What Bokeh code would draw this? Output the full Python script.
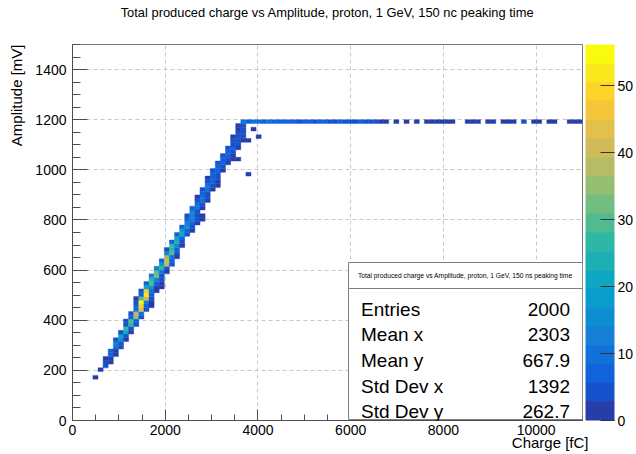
import numpy as np
from bokeh.plotting import figure
from bokeh.models import (ColumnDataSource, LinearColorMapper, ColorBar, FixedTicker,
                          Label, BoxAnnotation, Range1d, Title)
from bokeh.embed import file_html
from bokeh.resources import INLINE

# ---------------- histogram definition ----------------
x_lo, x_hi, n_xbins = 0, 11000, 100      # Charge [fC]
y_lo, y_hi, n_ybins = 0, 1500, 100       # Amplitude [mV]
z_top = 56.2                             # top of the colour scale

x_ticks = [0, 2000, 4000, 6000, 8000, 10000]
y_ticks = [0, 200, 400, 600, 800, 1000, 1200, 1400]
z_ticks = [0, 10, 20, 30, 40, 50]

# diagonal band: one entry per amplitude bin (y bin index, first charge bin, bin contents)
row_ybin = [11, 13, 14, 15, 16, 17, 18, 19, 20, 21, 22, 23, 24, 25, 26, 27, 28, 29, 30,
            31, 32, 33, 34, 35, 36, 37, 38, 39, 40, 41, 42, 43, 44, 45, 46, 47, 48, 49,
            50, 51, 52, 53, 54, 55, 56, 57, 58, 59, 60, 61, 62, 63, 64, 65, 66, 67, 68,
            69, 70, 71, 72, 73, 74, 75, 76, 77, 78]
row_xstart = [4, 5, 6, 6, 6, 7, 7, 8, 8, 8, 9, 9, 10, 10, 10, 11, 11, 12, 12,
              12, 12, 13, 13, 14, 14, 15, 15, 16, 16, 17, 17, 18, 18, 18, 19, 19, 20, 20,
              21, 21, 22, 22, 22, 23, 23, 24, 24, 24, 25, 25, 26, 26, 26, 27, 27, 28, 28,
              29, 29, 30, 30, 31, 31, 31, 32, 32, 32]
row_counts = [
    [1], [2], [4], [5, 1], [2, 2], [6, 1], [7, 2], [10, 3], [12, 4], [4, 16, 2],
    [18, 3], [3, 22, 2], [26, 4], [5, 28, 3], [3, 30, 6], [8, 34, 4], [4, 38, 9],
    [10, 44, 5], [6, 48, 8, 1], [4, 54, 12, 2], [2, 30, 42, 4], [8, 51, 6],
    [4, 46, 10, 2], [22, 18, 2, 1], [6, 30, 8, 2], [28, 14, 3], [12, 32, 5],
    [30, 10, 2], [14, 28, 4], [18, 38, 3], [8, 40, 6], [36, 9, 1], [12, 30, 4],
    [4, 28, 8], [26, 12, 2], [8, 24, 3], [22, 8], [8, 20, 3], [18, 6, 1], [6, 16, 4],
    [14, 6, 2], [8, 12, 3, 1], [3, 12, 4, 2], [12, 5], [6, 10, 2], [10, 4], [5, 9, 2],
    [2, 9, 4], [8, 5], [3, 9, 2], [9, 4, 1], [5, 8, 2], [2, 7, 5], [7, 3], [3, 7, 2],
    [7, 4], [3, 7, 2], [6, 4, 1, 1], [3, 6, 2], [6, 3], [3, 6, 1], [5, 3],
    [3, 5, 2, 1], [1, 4, 4], [4, 3], [2, 4], [1, 3],
]

# isolated entries beside the band
iso_xbin = [34, 36, 35]
iso_ybin = [65, 75, 77]
iso_count = [1, 1, 1]

# saturated amplitude row
sat_ybin = 79
sat_xbin = [33, 34, 35, 36, 37, 38, 39, 40, 41, 42, 43, 44, 45, 46, 47, 48, 49, 50,
            51, 52, 53, 54, 55, 56, 57, 58, 59, 60, 61,
            63, 65, 67, 69, 70, 71, 72, 73, 74, 77, 78, 79, 81, 82, 84, 85, 86, 88,
            90, 91, 93, 94, 97, 98, 99]
sat_count = [9, 8, 10, 9, 8, 9, 7, 8, 7, 6, 7, 5, 8, 6, 5, 6, 7, 4, 5, 6, 3, 5, 4, 6,
             5, 3, 4, 2, 2,
             1, 2, 1, 2, 1, 2, 1, 1, 2, 1, 2, 1, 2, 1, 1, 2, 1, 4, 1, 2, 1, 2, 1, 2, 1]

title_text = "Total produced charge vs Amplitude, proton, 1 GeV, 150 nc peaking time"
x_title = "Charge [fC]"
y_title = "Amplitude [mV]"
stats_title = "Total produced charge vs Amplitude, proton, 1 GeV, 150 ns peaking time"
stat_names = ["Entries", "Mean x", "Mean y", "Std Dev x", "Std Dev y"]
stat_values = ["2000", "2303", "667.9", "1392", "262.7"]

# ---------------- bird palette, 20 contour levels ----------------
stops = [0.0, 0.125, 0.25, 0.375, 0.5, 0.625, 0.75, 0.875, 1.0]
red = [0.2082, 0.0592, 0.0780, 0.0232, 0.1802, 0.5301, 0.8186, 0.9956, 0.9764]
green = [0.1664, 0.3599, 0.5041, 0.6419, 0.7178, 0.7492, 0.7328, 0.7862, 0.9832]
blue = [0.5293, 0.8684, 0.8385, 0.7914, 0.6425, 0.4662, 0.3499, 0.1968, 0.0539]
n_grad, n_levels = 255, 20
palette = []
for k in range(n_levels):
    t = int((k + 0.99) * n_grad / n_levels) / (n_grad - 1)
    rgb = [int(round(255 * np.interp(t, stops, c))) for c in (red, green, blue)]
    palette.append("#%02x%02x%02x" % tuple(rgb))

mapper = LinearColorMapper(palette=palette, low=0, high=z_top)

# ---------------- collect filled bins ----------------
bx, by, bc = [], [], []
for yb, xs, counts in zip(row_ybin, row_xstart, row_counts):
    for k, c in enumerate(counts):
        if c > 0:
            bx.append(xs + k); by.append(yb); bc.append(c)
for xb, yb, c in zip(iso_xbin, iso_ybin, iso_count):
    bx.append(xb); by.append(yb); bc.append(c)
for xb, c in zip(sat_xbin, sat_count):
    bx.append(xb); by.append(sat_ybin); bc.append(c)

xw = (x_hi - x_lo) / n_xbins
yw = (y_hi - y_lo) / n_ybins
src = ColumnDataSource(dict(
    left=[x_lo + i * xw for i in bx], right=[x_lo + (i + 1) * xw for i in bx],
    bottom=[y_lo + j * yw for j in by], top=[y_lo + (j + 1) * yw for j in by],
    count=bc))

# ---------------- figure ----------------
FL, FT, FB = 72, 44, 420          # frame left / top / bottom in page pixels
FONT = "Liberation Sans"

p = figure(width=636, height=454, x_range=Range1d(x_lo, x_hi), y_range=Range1d(y_lo, y_hi),
           output_backend="svg", toolbar_location=None,
           min_border_left=FL, min_border_right=54, min_border_top=FT, min_border_bottom=454 - FB)
p.background_fill_color = "white"
p.border_fill_color = "white"
p.outline_line_color = "#7a7a7a"

# titles live in the side panels; blank trailing lines push the text away from the frame
p.title.text = title_text + "\n\n"
p.title.align = "center"
p.title.vertical_align = "bottom"
p.title.standoff = -11
p.title.text_font = FONT
p.title.text_font_size = "12.9px"
p.title.text_font_style = "normal"
p.title.text_color = "black"

p.add_layout(Title(text=y_title + "\n", align="right", standoff=-18, text_font=FONT,
                   text_font_size="15px", text_font_style="normal", text_color="black"), "left")
p.add_layout(Title(text=x_title, align="right", offset=-6, standoff=-12, text_font=FONT,
                   text_font_size="15px", text_font_style="normal", text_color="black"), "below")

p.quad(left="left", right="right", bottom="bottom", top="top", source=src,
       fill_color={"field": "count", "transform": mapper},
       line_color={"field": "count", "transform": mapper}, line_width=0.4)

p.xaxis.ticker = FixedTicker(ticks=x_ticks, minor_ticks=list(range(x_lo, x_hi + 1, 500)))
p.yaxis.ticker = FixedTicker(ticks=y_ticks, minor_ticks=list(range(y_lo, y_hi + 1, 50)))
for ax in (p.xaxis[0], p.yaxis[0]):
    ax.major_label_text_font = FONT
    ax.major_label_text_font_size = "14px"
    ax.major_label_text_color = "black"
    ax.axis_line_color = "#4d4d4d"
    ax.major_tick_line_color = "#4d4d4d"
    ax.minor_tick_line_color = "#4d4d4d"
    ax.major_tick_out = 0
    ax.minor_tick_out = 0
p.xaxis.major_tick_in = 11
p.xaxis.minor_tick_in = 6
p.yaxis.major_tick_in = 15
p.yaxis.minor_tick_in = 8
p.xaxis.major_label_standoff = 4
p.yaxis.major_label_standoff = 6

for g in (p.xgrid[0], p.ygrid[0]):
    g.grid_line_color = "#c8c8c8"
    g.grid_line_dash = "4 3"
    g.grid_line_width = 1

# colour scale beside the frame
cb = ColorBar(color_mapper=mapper, location=(585 - FL, 0), width=29, height=FB - FT,
              padding=0, margin=0, ticker=FixedTicker(ticks=z_ticks),
              major_tick_in=14, major_tick_out=0, major_tick_line_color="#333333",
              minor_tick_line_color=None, bar_line_color=None, border_line_color=None,
              background_fill_alpha=0, label_standoff=3,
              major_label_text_font=FONT, major_label_text_font_size="14px",
              major_label_text_color="black")
p.add_layout(cb)


def sx(px):
    return px - FL


def sy(py):
    return FB - py


def add_text(px, py, text, size, align="left", baseline="middle"):
    p.add_layout(Label(x=sx(px), y=sy(py), x_units="screen", y_units="screen", text=text,
                       text_font=FONT, text_font_size=size, text_color="black",
                       text_align=align, text_baseline=baseline))


# statistics box
box_l, box_r, box_t, box_sep, box_b = 348, 582, 262, 288, 419
for top, bottom in ((box_t, box_sep), (box_sep, box_b)):
    p.add_layout(BoxAnnotation(left=sx(box_l), right=sx(box_r), top=sy(top), bottom=sy(bottom),
                               left_units="screen", right_units="screen",
                               top_units="screen", bottom_units="screen",
                               fill_color="white", fill_alpha=1.0,
                               line_color="#7f7f7f", line_width=1, line_alpha=1.0))
add_text(464.7, 274.5, stats_title, "6.7px", align="center")
baselines = [308.5, 334, 359.5, 385.5, 411]
for name, val, b in zip(stat_names, stat_values, baselines):
    add_text(360.5, b, name, "19px", align="left", baseline="alphabetic")
    add_text(569.5, b, val, "19px", align="right", baseline="alphabetic")

open("out.html", "w").write(file_html(p, INLINE))
